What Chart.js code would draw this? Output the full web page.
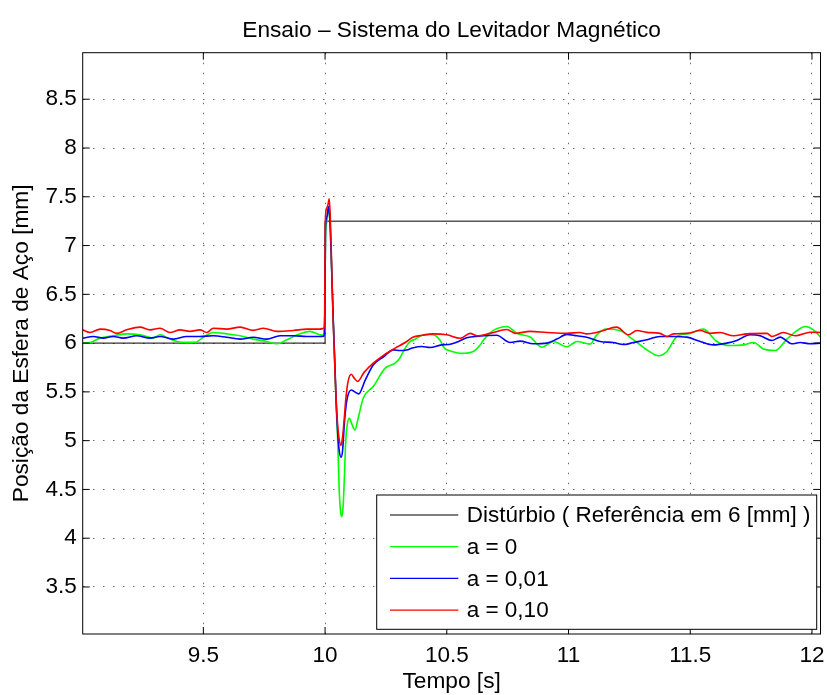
<!DOCTYPE html>
<html>
<head>
<meta charset="utf-8">
<script src="https://cdn.jsdelivr.net/npm/chart.js@4/dist/chart.umd.min.js"></script>
<style>
  html, body { margin: 0; padding: 0; background: #ffffff; }
  #plot { display: block; }
</style>
</head>
<body>
<canvas id="plot" width="827" height="695"></canvas>
<script>
// Texts
const chartTitle = 'Ensaio \u2013 Sistema do Levitador Magnético';
const xAxisLabel = 'Tempo [s]';
const yAxisLabel = 'Posição da Esfera de Aço [mm]';
const seriesLabels = ['Distúrbio ( Referência em 6 [mm] )', 'a = 0', 'a = 0,01', 'a = 0,10'];

// Axis limits and ticks
const xLimits = [9.0045, 12.035];
const yLimits = [3.018, 8.977];
const xTicks = [9.5, 10, 10.5, 11, 11.5, 12];
const yTicks = [3.5, 4, 4.5, 5, 5.5, 6, 6.5, 7, 7.5, 8, 8.5];

// Disturbance (step of the reference)
const timeDist = [9.0045, 10.0, 10.0, 12.035];
const posDist  = [6.0, 6.0, 7.25, 7.25];

// Response, a = 0
const timeA0 = [
  9.0045, 9.035, 9.076, 9.130, 9.185, 9.240, 9.295, 9.322, 9.363, 9.418, 9.466, 9.500, 9.541, 9.596,
  9.651, 9.705, 9.760, 9.802, 9.843, 9.897, 9.938, 9.979, 9.995, 9.999, 10.002, 10.008, 10.014, 10.019,
  10.024, 10.029, 10.034, 10.039, 10.045, 10.052, 10.058, 10.064, 10.069, 10.074, 10.079, 10.085, 10.092,
  10.100, 10.110, 10.123, 10.135, 10.157, 10.198, 10.247, 10.288, 10.308, 10.329, 10.350, 10.370, 10.404,
  10.430, 10.452, 10.472, 10.490, 10.515, 10.562, 10.609, 10.637, 10.650, 10.691, 10.720, 10.747, 10.788,
  10.842, 10.890, 10.938, 10.993, 11.034, 11.089, 11.116, 11.157, 11.190, 11.219, 11.267, 11.322, 11.369,
  11.404, 11.445, 11.500, 11.554, 11.609, 11.664, 11.719, 11.760, 11.801, 11.849, 11.897, 11.940, 11.972,
  12.006, 12.035
];
const posA0 = [
  6.000, 6.007, 6.051, 6.075, 6.095, 6.085, 6.051, 6.085, 6.041, 6.007, 6.007, 6.060, 6.109, 6.095,
  6.075, 6.041, 6.017, 5.993, 6.034, 6.095, 6.120, 6.085, 6.080, 6.300, 7.100, 7.250, 7.380, 7.300,
  7.000, 6.600, 6.200, 5.850, 5.400, 5.000, 4.500, 4.270, 4.220, 4.320, 4.600, 5.000, 5.180,
  5.230, 5.170, 5.110, 5.220, 5.437, 5.555, 5.744, 5.795, 5.850, 5.949, 6.017, 6.040, 6.085,
  6.090, 6.080, 6.030, 5.950, 5.920, 5.895, 5.914, 5.980, 6.030, 6.130, 6.160, 6.170, 6.100,
  6.063, 5.958, 6.017, 5.962, 6.017, 5.990, 6.085, 6.143, 6.140, 6.120, 6.034, 5.931, 5.870,
  5.914, 6.068, 6.100, 6.143, 6.017, 5.975, 5.982, 6.006, 5.939, 5.924, 6.041, 6.130, 6.170,
  6.136, 6.061
];

// Response, a = 0,01
const timeA001 = [
  9.0045, 9.048, 9.089, 9.130, 9.171, 9.226, 9.281, 9.322, 9.377, 9.432, 9.486, 9.541, 9.596, 9.651,
  9.705, 9.760, 9.815, 9.870, 9.925, 9.979, 9.995, 9.999, 10.002, 10.008, 10.014, 10.019, 10.024, 10.029,
  10.034, 10.039, 10.045, 10.051, 10.058, 10.066, 10.072, 10.080, 10.090, 10.108, 10.122, 10.138, 10.165,
  10.199, 10.240, 10.281, 10.308, 10.335, 10.359, 10.397, 10.431, 10.479, 10.507, 10.548, 10.582, 10.630,
  10.705, 10.760, 10.801, 10.856, 10.911, 10.952, 10.993, 11.034, 11.075, 11.130, 11.184, 11.226, 11.267,
  11.322, 11.376, 11.431, 11.486, 11.541, 11.595, 11.650, 11.691, 11.746, 11.787, 11.835, 11.869, 11.917,
  11.951, 11.993, 12.035
];
const posA001 = [
  6.051, 6.068, 6.051, 6.068, 6.051, 6.075, 6.051, 6.068, 6.041, 6.068, 6.068, 6.075, 6.060, 6.041,
  6.060, 6.041, 6.075, 6.075, 6.068, 6.068, 6.070, 6.300, 7.200, 7.300, 7.400, 7.300, 7.000, 6.600,
  6.220, 5.880, 5.450, 5.120, 4.900, 4.830, 4.900, 5.200, 5.420, 5.520, 5.500, 5.480, 5.620,
  5.780, 5.860, 5.931, 5.924, 5.930, 5.950, 5.965, 5.955, 5.982, 5.985, 6.016, 6.055, 6.070,
  6.080, 6.006, 6.020, 5.993, 6.000, 6.041, 6.090, 6.075, 6.061, 6.017, 6.006, 5.985, 6.006,
  6.034, 6.068, 6.068, 6.061, 6.017, 5.982, 6.000, 6.027, 6.085, 6.075, 6.027, 6.061, 5.993,
  6.006, 5.993, 6.000
];

// Response, a = 0,10
const timeA010 = [
  9.0045, 9.035, 9.076, 9.117, 9.144, 9.185, 9.240, 9.281, 9.322, 9.363, 9.404, 9.445, 9.486, 9.514,
  9.541, 9.596, 9.651, 9.705, 9.747, 9.802, 9.870, 9.925, 9.979, 9.995, 9.998, 10.001, 10.006, 10.012,
  10.017, 10.021, 10.025, 10.029, 10.033, 10.038, 10.044, 10.050, 10.057, 10.065, 10.071, 10.078, 10.085,
  10.094, 10.108, 10.120, 10.134, 10.160, 10.198, 10.240, 10.288, 10.329, 10.360, 10.400, 10.445, 10.500,
  10.555, 10.596, 10.623, 10.678, 10.747, 10.781, 10.842, 10.911, 10.993, 11.048, 11.075, 11.130, 11.198,
  11.246, 11.281, 11.322, 11.376, 11.404, 11.431, 11.486, 11.541, 11.582, 11.623, 11.678, 11.733, 11.815,
  11.835, 11.883, 11.931, 11.993, 12.035
];
const posA010 = [
  6.136, 6.109, 6.143, 6.130, 6.100, 6.136, 6.164, 6.136, 6.153, 6.109, 6.136, 6.120, 6.136, 6.109,
  6.153, 6.143, 6.164, 6.130, 6.153, 6.120, 6.130, 6.143, 6.143, 6.153, 6.200, 7.250, 7.380, 7.420,
  7.480, 7.320, 7.000, 6.600, 6.250, 5.900, 5.500, 5.220, 5.030, 4.950, 5.020, 5.200, 5.420,
  5.600, 5.680, 5.640, 5.607, 5.700, 5.795, 5.875, 5.949, 6.006, 6.060, 6.080, 6.095, 6.085,
  6.050, 6.100, 6.075, 6.100, 6.140, 6.100, 6.120, 6.109, 6.100, 6.109, 6.095, 6.119, 6.164,
  6.085, 6.129, 6.110, 6.100, 6.068, 6.095, 6.100, 6.129, 6.100, 6.109, 6.075, 6.095, 6.100,
  6.068, 6.109, 6.075, 6.112, 6.109
];

const fontFamily = '"Liberation Sans", Arial, Helvetica, sans-serif';
const toPoints = (t, p) => t.map((x, i) => ({ x: x, y: p[i] }));

// Title centred over the plotting area
const axesTitle = {
  id: 'axesTitle',
  afterDraw(chart) {
    const { ctx, chartArea: a } = chart;
    ctx.save();
    ctx.font = '22.7px ' + fontFamily;
    ctx.fillStyle = '#000000';
    ctx.textAlign = 'center';
    ctx.textBaseline = 'middle';
    ctx.fillText(chartTitle, (a.left + a.right) / 2, 31);
    ctx.restore();
  }
};

// Axes box with inward tick marks on all four sides
const axesFrame = {
  id: 'axesFrame',
  afterDatasetsDraw(chart) {
    const { ctx, chartArea: a, scales: { x, y } } = chart;
    const len = 7;
    ctx.save();
    ctx.strokeStyle = '#000000';
    ctx.lineWidth = 1;
    ctx.setLineDash([]);
    ctx.strokeRect(a.left, a.top, a.right - a.left, a.bottom - a.top);
    ctx.beginPath();
    x.ticks.forEach(t => {
      const px = x.getPixelForValue(t.value);
      ctx.moveTo(px, a.bottom); ctx.lineTo(px, a.bottom - len);
      ctx.moveTo(px, a.top); ctx.lineTo(px, a.top + len);
    });
    y.ticks.forEach(t => {
      const py = y.getPixelForValue(t.value);
      ctx.moveTo(a.left, py); ctx.lineTo(a.left + len, py);
      ctx.moveTo(a.right, py); ctx.lineTo(a.right - len, py);
    });
    ctx.stroke();
    ctx.restore();
  }
};

// Boxed legend in the lower right corner of the axes
const boxedLegend = {
  id: 'boxedLegend',
  afterDraw(chart) {
    const { ctx, chartArea: a } = chart;
    const w = 440, h = 134.3;
    const x0 = a.right - 3.8 - w;
    const y0 = a.bottom - 4.7 - h;
    ctx.save();
    ctx.setLineDash([]);
    ctx.fillStyle = '#ffffff';
    ctx.fillRect(x0, y0, w, h);
    ctx.strokeStyle = '#000000';
    ctx.lineWidth = 1;
    ctx.strokeRect(x0, y0, w, h);
    ctx.font = '22.5px ' + fontFamily;
    ctx.textBaseline = 'middle';
    ctx.textAlign = 'left';
    chart.data.datasets.forEach((ds, i) => {
      const cy = y0 + 20 + i * 31.7;
      ctx.strokeStyle = ds.borderColor;
      ctx.lineWidth = 1.2;
      ctx.beginPath();
      ctx.moveTo(x0 + 13.3, cy);
      ctx.lineTo(x0 + 81.6, cy);
      ctx.stroke();
      ctx.fillStyle = '#000000';
      ctx.fillText(ds.label, x0 + 90, cy + 1);
    });
    ctx.restore();
  }
};

new Chart(document.getElementById('plot'), {
  type: 'line',
  data: {
    datasets: [
      { label: seriesLabels[0], data: toPoints(timeDist, posDist), borderColor: '#000000',
        borderWidth: 1, tension: 0, order: 3 },
      { label: seriesLabels[1], data: toPoints(timeA0, posA0), borderColor: '#00ff00',
        borderWidth: 1.6, cubicInterpolationMode: 'monotone', order: 2 },
      { label: seriesLabels[2], data: toPoints(timeA001, posA001), borderColor: '#0000ff',
        borderWidth: 1.6, cubicInterpolationMode: 'monotone', order: 1 },
      { label: seriesLabels[3], data: toPoints(timeA010, posA010), borderColor: '#ff0000',
        borderWidth: 1.6, cubicInterpolationMode: 'monotone', order: 0 }
    ]
  },
  options: {
    responsive: false,
    animation: false,
    devicePixelRatio: 1,
    layout: { padding: { left: 0, right: 6.5, top: 52.7, bottom: 0 } },
    elements: { point: { radius: 0, hoverRadius: 0 }, line: { fill: false } },
    events: [],
    plugins: {
      legend: { display: false },
      tooltip: { enabled: false },
      title: { display: false }
    },
    scales: {
      x: {
        type: 'linear',
        min: xLimits[0],
        max: xLimits[1],
        afterBuildTicks: s => { s.ticks = xTicks.map(v => ({ value: v })); },
        afterFit: s => { s.height = 61; s.paddingLeft = 0; s.paddingRight = 0; },
        ticks: {
          color: '#000000', padding: 8, maxRotation: 0, autoSkip: false,
          font: { family: fontFamily, size: 22.5, lineHeight: 1.2 },
          callback: v => String(v)
        },
        grid: { color: '#6a6a6a', lineWidth: 1, drawTicks: false },
        border: { display: false, dash: [1.5, 8.5] },
        title: {
          display: true, text: xAxisLabel, color: '#000000',
          font: { family: fontFamily, size: 22.7, lineHeight: 1.2 },
          padding: { top: 0, bottom: 0 }
        }
      },
      y: {
        type: 'linear',
        min: yLimits[0],
        max: yLimits[1],
        afterBuildTicks: s => { s.ticks = yTicks.map(v => ({ value: v })); },
        afterFit: s => { s.width = 82.7; s.paddingTop = 0; s.paddingBottom = 0; },
        ticks: {
          color: '#000000', padding: 6, autoSkip: false,
          font: { family: fontFamily, size: 22.5, lineHeight: 1.2 },
          callback: v => String(v)
        },
        grid: { color: '#6a6a6a', lineWidth: 1, drawTicks: false },
        border: { display: false, dash: [1.5, 8.5] },
        title: {
          display: true, text: yAxisLabel, color: '#000000',
          font: { family: fontFamily, size: 22.7, lineHeight: 1.2 },
          padding: { top: 8.3, bottom: 0 }
        }
      }
    }
  },
  plugins: [axesTitle, axesFrame, boxedLegend]
});
</script>
</body>
</html>
